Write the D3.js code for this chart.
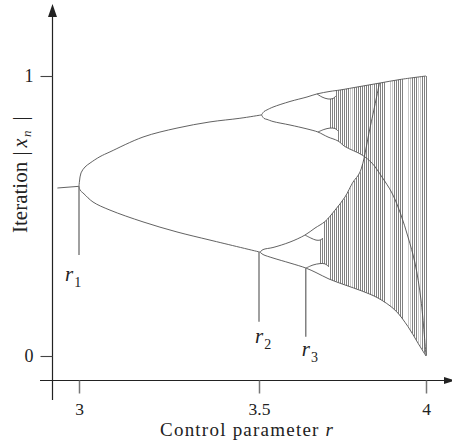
<!DOCTYPE html>
<html><head><meta charset="utf-8">
<script src="https://cdn.jsdelivr.net/npm/d3@7"></script>
<style>
html,body{margin:0;padding:0;background:#fff;}
svg{display:block;font-family:"Liberation Serif","Times New Roman",serif;}
</style></head><body>
<svg id="chart" width="452" height="441"></svg>
<script>
// ---------- data: [r, x_n] ----------
const xTicks = [3, 3.5, 4];
const xTickLabels = ["3", "3.5", "4"];
const yTicks = [0, 1];
const yTickLabels = ["0", "1"];

const fixedBranch = [[2.94,0.600],[3.0,0.606]];
const period2Upper = [[3.0,0.606],[3.0014,0.625],[3.0056,0.654],[3.0167,0.675],[3.0306,0.689],[3.0583,0.712],[3.0861,0.729],[3.1778,0.782],[3.2722,0.814],[3.3639,0.836],[3.447,0.849],[3.5075,0.861]];
const period2Lower = [[3.0,0.606],[3.0028,0.593],[3.0139,0.579],[3.0389,0.550],[3.0861,0.521],[3.1778,0.479],[3.2722,0.443],[3.3639,0.414],[3.503,0.371]];

// envelopes of the period-4 branches / chaotic bands
const topEdge = [[3.5075,0.861],[3.515,0.873],[3.524,0.879],[3.5419,0.889],[3.5928,0.909],[3.6437,0.925],[3.6737,0.936],[3.7126,0.945],[3.7425,0.950],[3.8024,0.9625],[3.8623,0.975],[3.9222,0.9875],[4.0,1.0]];
const upperBandBottom = [[3.5075,0.861],[3.515,0.8485],[3.524,0.845],[3.5419,0.8375],[3.5928,0.825],[3.6437,0.811],[3.6766,0.800],[3.6916,0.791],[3.7066,0.782],[3.7365,0.768],[3.7575,0.748],[3.8084,0.718],[3.8383,0.689],[3.8683,0.639],[3.8982,0.582],[3.9251,0.504],[3.9461,0.425],[3.9671,0.332],[3.985,0.200],[4.0,0.0]];
const lowerBandTop = [[3.503,0.371],[3.512,0.380],[3.5419,0.3875],[3.5928,0.407],[3.6377,0.432],[3.6677,0.457],[3.6976,0.4804],[3.7275,0.521],[3.7575,0.568],[3.7814,0.621],[3.8024,0.657],[3.8323,0.814],[3.8608,0.975]];
const bottomEdge = [[3.503,0.371],[3.512,0.3625],[3.5419,0.350],[3.5928,0.332],[3.6407,0.314],[3.6707,0.298],[3.7096,0.275],[3.7575,0.2536],[3.8084,0.232],[3.8563,0.207],[3.9072,0.164],[3.9461,0.105],[3.976,0.046],[4.0,0.0]];

// period-8 bubbles (inner curves)
const bubbleUU = [[3.6737,0.936],[3.6886,0.925],[3.7066,0.918],[3.7216,0.9196],[3.7305,0.929]];
const bubbleUL = [[3.6766,0.800],[3.6946,0.809],[3.7126,0.814],[3.7275,0.8125],[3.7365,0.8036]];
const bubbleLU = [[3.6377,0.432],[3.6557,0.421],[3.6707,0.414],[3.6826,0.414],[3.6916,0.421]];
const bubbleLL = [[3.6407,0.314],[3.6617,0.325],[3.6826,0.330],[3.6976,0.329],[3.7096,0.318]];

// chaotic region: r positions of the vertical hatch lines
const hatchDark = [3.683,3.689,3.695,3.701,3.707,3.713,3.719,3.725,3.731,3.737,3.743,3.749,3.754,3.760,3.766,3.784,3.790,3.796,3.802,3.808,3.814,3.820,3.826,3.832,3.844,3.850,3.856,3.862,3.868,3.874,3.904,3.910,3.916,3.922,3.928,3.958,3.964,3.970,3.988,3.994,3.999];
const hatchLight = [3.772,3.778,3.838,3.892,3.898,3.946,3.952,3.976,3.982];
const upperBandStart = 3.71, lowerBandStart = 3.68, bandMerge = 3.812;

// bifurcation points r1, r2, r3 and their marker lines
const rPoints = [3.0, 3.5, 3.64];
const rNames = ["1", "2", "3"];
const rLineTop = [0.606, 0.371, 0.314];
const rLineBottom = [0.361, 0.1225, 0.069];

// ---------- drawing ----------
const svg = d3.select("#chart");
const x = d3.scaleLinear().domain([3, 3.5, 4]).range([79, 259, 426]);
const y = d3.scaleLinear().domain([0, 1]).range([356, 76]);

const line = d3.line().x(d => x(d[0])).y(d => y(d[1])).curve(d3.curveCatmullRom.alpha(0.5));

function interp(c, r) {
  if (r <= c[0][0]) return c[0][1];
  if (r >= c[c.length-1][0]) return c[c.length-1][1];
  const i = d3.bisector(d => d[0]).right(c, r);
  const a = c[i-1], b = c[i];
  return a[1] + (r - a[0]) / (b[0] - a[0]) * (b[1] - a[1]);
}
const inside = (c, r) => r >= c[0][0] && r <= c[c.length-1][0];

function segmentsAt(r) {
  if (r >= bandMerge) return [[interp(bottomEdge, r), interp(topEdge, r)]];
  const segs = [];
  if (r >= upperBandStart) {
    const t = inside(bubbleUU, r) ? interp(bubbleUU, r) : interp(topEdge, r);
    const b = inside(bubbleUL, r) ? interp(bubbleUL, r) : interp(upperBandBottom, r);
    segs.push([b, t]);
  }
  if (r >= lowerBandStart) {
    const t = inside(bubbleLU, r) ? interp(bubbleLU, r) : interp(lowerBandTop, r);
    const b = inside(bubbleLL, r) ? interp(bubbleLL, r) : interp(bottomEdge, r);
    segs.push([b, t]);
  }
  return segs;
}

function drawHatch(list, color) {
  const g = svg.append("g").attr("stroke", color).attr("stroke-width", 1);
  list.forEach(r => {
    const px = Math.round(x(r)) + 0.5;
    segmentsAt(r).forEach(s => {
      g.append("line").attr("x1", px).attr("x2", px)
        .attr("y1", y(s[0])).attr("y2", y(s[1]));
    });
  });
}
drawHatch(hatchLight, "#c8c8c8");
drawHatch(hatchDark, "#808080");

// branches
const curves = [fixedBranch, period2Upper, period2Lower, topEdge, upperBandBottom, lowerBandTop, bottomEdge,
                bubbleUU, bubbleUL, bubbleLU, bubbleLL];
svg.append("g").attr("fill", "none").attr("stroke", "#505050").attr("stroke-width", 0.9)
  .selectAll("path").data(curves).join("path").attr("d", line);

// r markers
const rg = svg.append("g");
rg.selectAll("line").data(rPoints).join("line")
  .attr("x1", d => x(d)).attr("x2", d => x(d))
  .attr("y1", (d, i) => y(rLineTop[i])).attr("y2", (d, i) => y(rLineBottom[i]))
  .attr("stroke", "#808080").attr("stroke-width", 1.5);
const rLabelOffset = [[-14, 26.5], [-4, 21.5], [-4, 19]];
rPoints.forEach((r, i) => {
  const t = rg.append("text")
    .attr("x", x(r) + rLabelOffset[i][0])
    .attr("y", y(rLineBottom[i]) + rLabelOffset[i][1])
    .attr("font-size", 21).attr("fill", "#222");
  t.append("tspan").attr("font-style", "italic").text("r");
  t.append("tspan").attr("font-size", 14).attr("dy", 6).attr("dx", 1).text(rNames[i]);
});

// axes
const axisColor = "#222";
svg.append("line").attr("x1", 52.5).attr("x2", 52.5).attr("y1", 12).attr("y2", 400)
  .attr("stroke", axisColor).attr("stroke-width", 1.2);
svg.append("path").attr("d", "M48,17L52.5,4L57,17Z").attr("fill", axisColor);
svg.append("line").attr("x1", 40).attr("x2", 448).attr("y1", 380.5).attr("y2", 380.5)
  .attr("stroke", axisColor).attr("stroke-width", 1.2);
svg.append("path").attr("d", "M444,377L455,380.5L444,384Z").attr("fill", axisColor);

const yAxis = d3.axisLeft(y).tickValues(yTicks).tickSize(12).tickPadding(7)
  .tickFormat((d, i) => yTickLabels[i]);
const gy = svg.append("g").attr("transform", "translate(52.5,0)").call(yAxis);
gy.select(".domain").remove();
gy.selectAll(".tick line").attr("stroke", "#444").attr("stroke-width", 1.1);
gy.selectAll(".tick text").attr("font-size", 18).attr("font-family", "Liberation Serif").attr("fill", "#222");

const xAxis = d3.axisBottom(x).tickValues(xTicks).tickSize(13).tickPadding(9)
  .tickFormat((d, i) => xTickLabels[i]);
const gx = svg.append("g").attr("transform", "translate(0,380.5)").call(xAxis);
gx.select(".domain").remove();
gx.selectAll(".tick line").attr("stroke", "#777").attr("stroke-width", 1.5);
gx.selectAll(".tick text").attr("font-size", 17.5).attr("font-family", "Liberation Serif").attr("fill", "#222");

// titles
const xt = svg.append("text").attr("x", 246.5).attr("y", 436).attr("text-anchor", "middle")
  .attr("font-size", 19).attr("fill", "#222").attr("textLength", 173).attr("lengthAdjust", "spacing");
xt.append("tspan").text("Control parameter ");
xt.append("tspan").attr("font-style", "italic").text("r");

// y title, laid out along the rotated baseline (positions relative to its centre)
const yt = svg.append("text").attr("transform", "translate(27,173) rotate(-90)")
  .attr("font-size", 20).attr("fill", "#222");
yt.append("tspan").attr("x", -60).attr("font-size", 21).text("Iteration");
yt.append("tspan").attr("x", 17.5).text("|");
yt.append("tspan").attr("x", 25.5).attr("font-style", "italic").text("x");
yt.append("tspan").attr("x", 36).attr("dy", 4).attr("font-style", "italic").attr("font-size", 13).text("n");
yt.append("tspan").attr("x", 52.5).attr("dy", -4).text("|");
</script>
</body></html>
